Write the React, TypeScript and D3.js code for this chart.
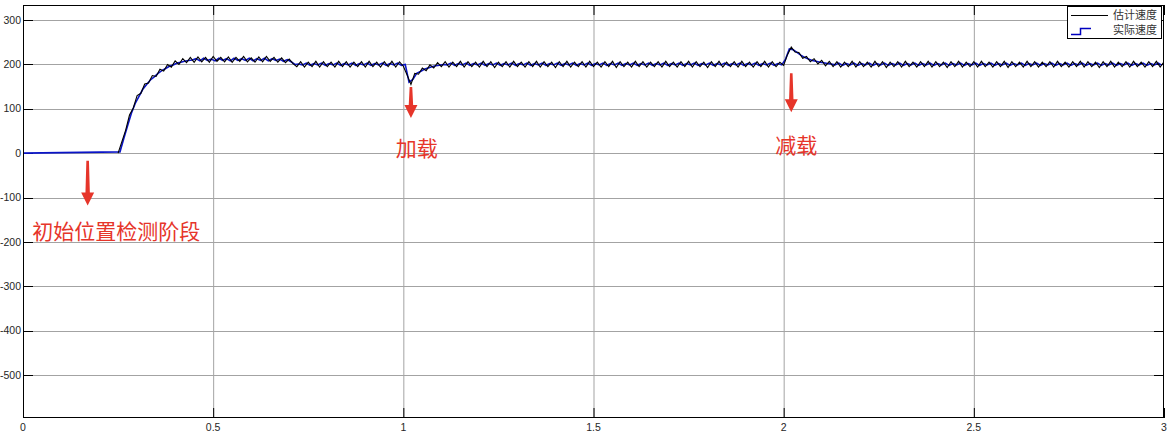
import React from "react";
import * as d3 from "d3";

const W = 1168;
const H = 436;

// x axis ticks (time, s) and y axis ticks (speed)
const xTicks = [0, 0.5, 1, 1.5, 2, 2.5, 3];
const xTickLabels = ["0", "0.5", "1", "1.5", "2", "2.5", "3"];
const yTicks = [-500, -400, -300, -200, -100, 0, 100, 200, 300];
const yTickLabels = ["-500", "-400", "-300", "-200", "-100", "0", "100", "200", "300"];

const seriesNames = ["估计速度", "实际速度"];

// Sampling of both series (s)
const sampleStep = 0.01;
const estStart = 0.25;
const actStart = 0.255;
const initialTime = 0;
const initialValue = 0;

// 估计速度 (black), samples from 0.25 s
const estValues = [
  0, 26, 52, 86, 102, 130, 135, 156, 158, 175, 173, 189, 185, 200, 194, 208, 200, 213, 204, 216,
  205, 217, 206, 216, 205, 218, 207, 216, 206, 217, 205, 216, 207, 218, 206, 215, 205, 217, 206, 218, 207, 216, 205, 215, 204, 212,
  202, 195,
  206, 194, 205, 195, 207, 194, 206, 195, 205, 194, 207, 195, 206, 194, 205, 195, 206, 194, 207, 195, 205, 194, 206, 195, 207, 194, 206, 196,
  176, 155, 180, 178, 192, 186, 199, 192, 204, 195,
  206, 194, 205, 195, 207, 194, 206, 195, 205, 194,
  207, 195, 206, 193, 205, 195, 206, 194, 207, 195,
  205, 194, 206, 195, 207, 194, 206, 195, 205, 193,
  206, 195, 207, 194, 205, 195, 206, 194, 207, 195,
  205, 194, 206, 195, 207, 193, 206, 195, 205, 194,
  207, 195, 206, 194, 205, 195, 206, 194, 207, 195,
  205, 194, 206, 195, 207, 194, 206, 195, 205, 193,
  206, 195, 207, 194, 205, 195, 206, 194, 207, 195,
  205, 194, 206, 195, 207, 194, 206, 195, 205, 198,
  222, 239, 228, 227, 214, 218, 206, 213, 201, 209, 197, 207,
  195, 206, 194, 205, 195, 207, 194, 206, 195, 205,
  194, 207, 195, 206, 193, 205, 195, 206, 194, 207,
  195, 205, 194, 206, 195, 207, 194, 206, 195, 205,
  193, 206, 195, 207, 194, 205, 195, 206, 194, 207,
  195, 205, 194, 206, 195, 207, 193, 206, 195, 205,
  194, 207, 195, 206, 194, 205, 195, 206, 194, 207,
  195, 205, 194, 206, 195, 207, 194, 206, 195, 205,
  193, 206, 195, 207, 194, 205, 195, 206, 194, 207,
  195, 205, 194, 206, 195, 207, 194, 206,
];

// 实际速度 (blue), samples from 0.255 s
const actValues = [
  3, 33, 62, 90, 112, 128, 144, 155, 165, 172, 180, 186, 191, 196, 199, 203, 205, 207, 209, 210,
  213, 208, 214, 209, 212, 208, 214, 209, 213, 208, 214, 209, 213, 209, 214, 208, 213, 209, 214, 208, 213, 209, 212, 207, 211, 206,
  200, 201,
  199, 203, 198, 202, 199, 203, 198, 202, 199, 203, 198, 202, 199, 203, 198, 202, 199, 203, 198, 202, 199, 203, 198, 202, 199, 203, 198, 200,
  160, 166, 180, 184, 189, 192, 195, 197, 198, 200,
  199, 203, 198, 202, 199, 203, 198, 202, 199, 203,
  198, 202, 199, 203, 198, 202, 199, 203, 198, 202,
  199, 203, 198, 202, 199, 203, 198, 202, 199, 203,
  198, 202, 199, 203, 198, 202, 199, 203, 198, 202,
  199, 203, 198, 202, 199, 203, 198, 202, 199, 203,
  198, 202, 199, 203, 198, 202, 199, 203, 198, 202,
  199, 203, 198, 202, 199, 203, 198, 202, 199, 203,
  198, 202, 199, 203, 198, 202, 199, 203, 198, 202,
  199, 203, 198, 202, 199, 203, 198, 202, 199, 212,
  235, 233, 227, 221, 216, 212, 209, 207, 205, 204, 202, 201,
  199, 203, 198, 202, 199, 203, 198, 202, 199, 203,
  198, 202, 199, 203, 198, 202, 199, 203, 198, 202,
  199, 203, 198, 202, 199, 203, 198, 202, 199, 203,
  198, 202, 199, 203, 198, 202, 199, 203, 198, 202,
  199, 203, 198, 202, 199, 203, 198, 202, 199, 203,
  198, 202, 199, 203, 198, 202, 199, 203, 198, 202,
  199, 203, 198, 202, 199, 203, 198, 202, 199, 203,
  198, 202, 199, 203, 198, 202, 199, 203, 198, 202,
  199, 203, 198, 202, 199, 203, 198,
];

// annotations
const annotLabels = ["初始位置检测阶段", "加载", "减载"];
const annotArrowT = [0.17, 1.02, 2.02];
const annotArrowTop = [-17, 149, 180];
const annotArrowTip = [-118, 79, 92];
const annotTextT = [0.245, 1.035, 2.033];
const annotTextV = [-178, 11, 16];

const margin = { left: 23, right: 4, top: 5, bottom: 18 };

export default function App() {
  const x = d3.scaleLinear().domain([0, 3]).range([margin.left, W - margin.right]);
  const y = d3.scaleLinear().domain([-597, 334]).range([H - margin.bottom, margin.top]);
  const x0 = x(0), x1 = x(3);
  const y0 = y.range()[0], y1 = y.range()[1];

  const estPts: [number, number][] = estValues.map((v, i) => [estStart + i * sampleStep, v] as [number, number]);
  const actPts: [number, number][] = [[initialTime, initialValue], ...actValues.map((v, i) => [actStart + i * sampleStep, v] as [number, number])];
  const line = d3.line<[number, number]>().x((d) => x(Math.min(d[0], 3))).y((d) => y(d[1]));

  const tickLen = 10;
  const red = "#e6352a";
  const font = "'Liberation Sans', Arial, sans-serif";
  const cjk = "'Noto Sans CJK SC', sans-serif";

  return (
    <svg width={W} height={H} style={{ position: "absolute", left: 0, top: 0, background: "#fff" }}>
      <defs>
        <clipPath id="plot">
          <rect x={x0} y={y1} width={x1 - x0} height={y0 - y1} />
        </clipPath>
      </defs>
      <rect x={0} y={0} width={W} height={H} fill="#fff" />
      {/* grid */}
      {xTicks.slice(1, -1).map((t) => (
        <line key={"gx" + t} x1={x(t) + 0.5} x2={x(t) + 0.5} y1={y1} y2={y0} stroke="#a3a3a3" strokeWidth={1} />
      ))}
      {yTicks.map((t) => (
        <line key={"gy" + t} x1={x0} x2={x1} y1={Math.round(y(t)) + 0.5} y2={Math.round(y(t)) + 0.5} stroke="#a3a3a3" strokeWidth={1} />
      ))}
      {/* ticks */}
      {xTicks.map((t) => (
        <g key={"tx" + t}>
          <line x1={x(t) + 0.5} x2={x(t) + 0.5} y1={y0} y2={y0 - tickLen} stroke="#000" />
          <line x1={x(t) + 0.5} x2={x(t) + 0.5} y1={y1} y2={y1 + tickLen} stroke="#000" />
        </g>
      ))}
      {yTicks.map((t) => (
        <g key={"ty" + t}>
          <line x1={x0} x2={x0 + tickLen} y1={Math.round(y(t)) + 0.5} y2={Math.round(y(t)) + 0.5} stroke="#000" />
          <line x1={x1} x2={x1 - tickLen} y1={Math.round(y(t)) + 0.5} y2={Math.round(y(t)) + 0.5} stroke="#000" />
        </g>
      ))}
      {/* series */}
      <g clipPath="url(#plot)">
        <path d={line(actPts) || ""} fill="none" stroke="#0a14c8" strokeWidth={1.6} />
        <path d={line(estPts) || ""} fill="none" stroke="#000000" strokeWidth={1.1} />
      </g>
      {/* axes box */}
      <rect x={x0 + 0.5} y={y1 + 0.5} width={x1 - x0 - 1} height={y0 - y1 - 1} fill="none" stroke="#000" strokeWidth={1} />
      {/* tick labels */}
      {yTicks.map((t, i) => (
        <text key={"ly" + t} x={x0 - 2} y={y(t)} dy="0.35em" textAnchor="end" fontFamily={font} fontSize={10.5} fill="#262626">
          {yTickLabels[i]}
        </text>
      ))}
      {xTicks.map((t, i) => (
        <text key={"lx" + t} x={x(t)} y={H - 5} textAnchor="middle" fontFamily={font} fontSize={10.5} fill="#262626">
          {xTickLabels[i]}
        </text>
      ))}
      {/* legend */}
      <g>
        <rect x={1067.5} y={6.5} width={94} height={32} fill="#fff" stroke="#000" strokeWidth={1} />
        <line x1={1071} x2={1108} y1={15.5} y2={15.5} stroke="#000" strokeWidth={1.2} />
        <text x={1157} y={15.5} dy="0.35em" textAnchor="end" fontFamily={cjk} fontSize={11} fill="#333">
          {seriesNames[0]}
        </text>
        <path d="M1071,34.5 L1080.5,34.5 L1080.5,28.5 L1091,28.5" fill="none" stroke="#0000c0" strokeWidth={1.5} />
        <text x={1157} y={30.5} dy="0.35em" textAnchor="end" fontFamily={cjk} fontSize={11} fill="#333">
          {seriesNames[1]}
        </text>
      </g>
      {/* annotations */}
      {annotLabels.map((lab, i) => {
        const ax = x(annotArrowT[i]);
        const ay1 = y(annotArrowTop[i]);
        const ay2 = y(annotArrowTip[i]);
        const hs = ay2 - 13;
        return (
          <g key={"a" + i}>
            <path
              d={`M${ax - 1.3},${ay1} L${ax + 1.3},${ay1} L${ax + 2.2},${hs} L${ax + 6.5},${hs} L${ax},${ay2} L${ax - 6.5},${hs} L${ax - 2.2},${hs} Z`}
              fill={red}
            />
            <text x={x(annotTextT[i])} y={y(annotTextV[i])} dy="0.35em" textAnchor="middle" fontFamily={cjk} fontSize={21} fill={red}>
              {lab}
            </text>
          </g>
        );
      })}
    </svg>
  );
}
